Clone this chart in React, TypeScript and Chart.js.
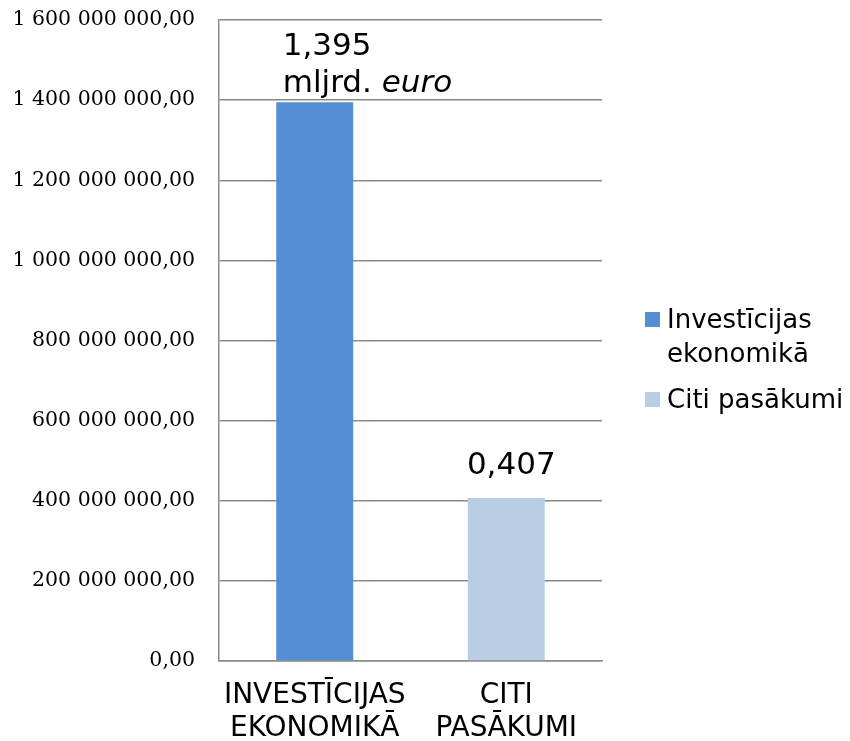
import React, { useEffect, useRef } from 'react';
import { Chart, registerables } from 'chart.js';

Chart.register(...registerables);

// ---- data ----
const categories: string[][] = [
  ['INVESTĪCIJAS', 'EKONOMIKĀ'],
  ['CITI', 'PASĀKUMI'],
];
const seriesNames: string[] = ['Investīcijas ekonomikā', 'Citi pasākumi'];
const legendLines: string[][] = [['Investīcijas', 'ekonomikā'], ['Citi pasākumi']];
const investValues: (number | null)[] = [1395000000, null];
const otherValues: (number | null)[] = [null, 407000000];
const valueLabels: string[] = ['1,395', '0,407'];
const unitLabelParts: string[] = ['mljrd. ', 'euro'];
const seriesColors: string[] = ['#558ED5', '#B9CDE5'];
const yMin = 0;
const yMax = 1600000000;
const yStep = 200000000;

const formatTick = (v: number): string =>
  Math.round(v).toString().replace(/\B(?=(\d{3})+(?!\d))/g, ' ') + ',00';

const SANS = '"DejaVu Sans", Verdana, sans-serif';
const SERIF = '"DejaVu Serif", "Liberation Serif", serif';
const GRID = '#8a8a8a';

const dataLabelPlugin = {
  id: 'dataLabels',
  afterDatasetsDraw(chart: any) {
    const ctx = chart.ctx;
    ctx.save();
    ctx.fillStyle = '#000';
    ctx.textBaseline = 'alphabetic';
    const b0 = chart.getDatasetMeta(0).data[0];
    if (b0) {
      ctx.textAlign = 'left';
      ctx.font = `normal 31px ${SANS}`;
      const left = b0.x - 32;
      ctx.fillText(valueLabels[0], left, b0.y - 47);
      ctx.fillText(unitLabelParts[0], left, b0.y - 10);
      const w = ctx.measureText(unitLabelParts[0]).width;
      ctx.font = `italic 31px ${SANS}`;
      ctx.fillText(unitLabelParts[1], left + w, b0.y - 10);
    }
    const b1 = chart.getDatasetMeta(1).data[1];
    if (b1) {
      ctx.textAlign = 'center';
      ctx.font = `normal 31px ${SANS}`;
      ctx.fillText(valueLabels[1], b1.x + 5, b1.y - 24);
    }
    ctx.restore();
  },
};

const legendPlugin = {
  id: 'sideLegend',
  afterDraw(chart: any) {
    const { ctx, chartArea } = chart;
    ctx.save();
    const x0 = chartArea.right + 43;
    let baseline = chartArea.top + 308;
    ctx.font = `normal 26px ${SANS}`;
    ctx.textAlign = 'left';
    ctx.textBaseline = 'alphabetic';
    legendLines.forEach((lines, i) => {
      ctx.fillStyle = seriesColors[i];
      ctx.fillRect(x0, baseline - 16, 15, 15);
      ctx.fillStyle = '#000';
      lines.forEach((line, j) => {
        ctx.fillText(line, x0 + 22, baseline + j * 34);
      });
      baseline += (lines.length - 1) * 34 + 46;
    });
    ctx.restore();
  },
};

export default function App() {
  const ref = useRef<HTMLCanvasElement | null>(null);

  useEffect(() => {
    if (!ref.current) return;
    const chart = new Chart(ref.current, {
      type: 'bar',
      data: {
        labels: categories,
        datasets: [
          {
            label: seriesNames[0],
            data: investValues,
            backgroundColor: seriesColors[0],
            skipNull: true,
          } as any,
          {
            label: seriesNames[1],
            data: otherValues,
            backgroundColor: seriesColors[1],
            skipNull: true,
          } as any,
        ],
      },
      options: {
        responsive: false,
        animation: false,
        devicePixelRatio: 1,
        layout: { padding: { top: 20, right: 248, left: 0, bottom: 0 } },
        datasets: {
          bar: { categoryPercentage: 1, barPercentage: 0.402 },
        },
        plugins: {
          legend: { display: false },
          tooltip: { enabled: false },
          title: { display: false },
        },
        scales: {
          x: {
            grid: { display: false, drawTicks: false, tickLength: 0 },
            border: { display: true, color: GRID, width: 1.5 },
            ticks: {
              color: '#000',
              padding: 18,
              font: { family: SANS, size: 28, lineHeight: 1.18 },
              maxRotation: 0,
              minRotation: 0,
              autoSkip: false,
            },
            afterFit(scale: any) {
              scale.height = 80;
            },
          },
          y: {
            min: yMin,
            max: yMax,
            grid: { color: GRID, lineWidth: 1.5, drawTicks: false, tickLength: 0 },
            border: { display: true, color: GRID, width: 1.5 },
            ticks: {
              stepSize: yStep,
              color: '#000',
              padding: 24,
              font: { family: SERIF, size: 20.5 },
              callback: (v: any) => formatTick(Number(v)),
            },
            afterFit(scale: any) {
              scale.width = 219;
              scale.paddingTop = 0;
              scale.paddingBottom = 0;
            },
          },
        },
      },
      plugins: [dataLabelPlugin, legendPlugin],
    });
    return () => chart.destroy();
  }, []);

  return (
    <div style={{ position: 'absolute', left: 0, top: 0, width: 850, height: 741, background: '#fff' }}>
      <canvas ref={ref} width={850} height={741} style={{ width: 850, height: 741, display: 'block' }} />
    </div>
  );
}
